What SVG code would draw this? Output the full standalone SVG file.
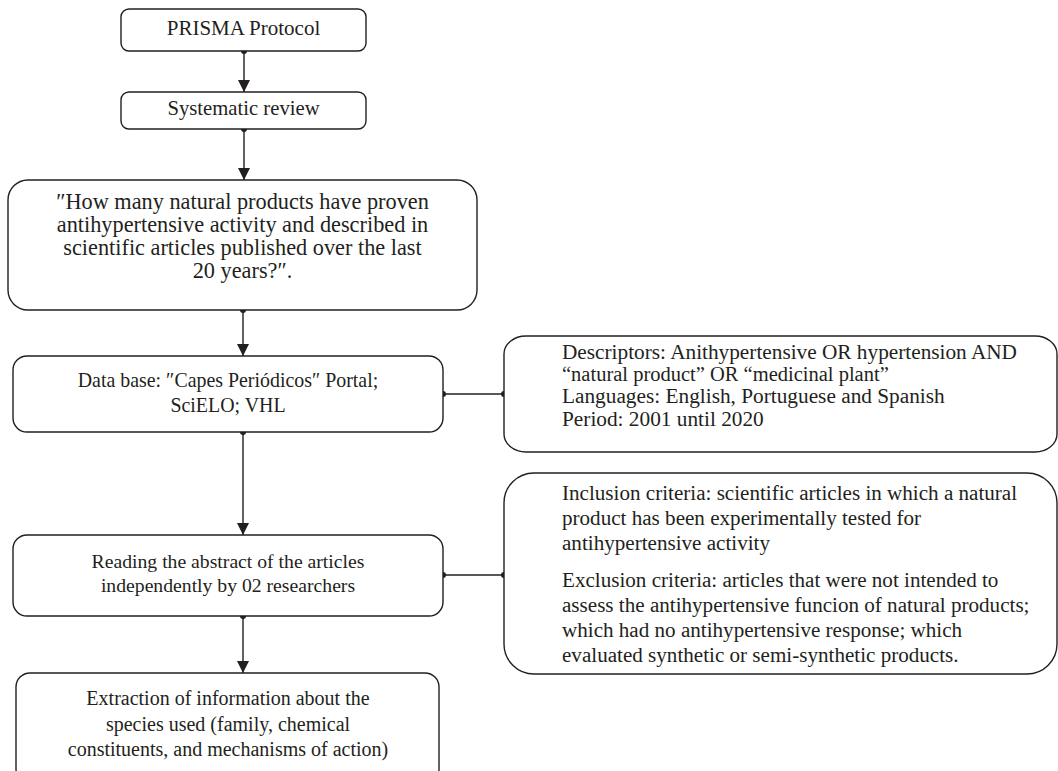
<svg xmlns="http://www.w3.org/2000/svg" width="1058" height="771" viewBox="0 0 1058 771">
<defs>
<marker id="arr" viewBox="0 0 12 12" refX="12" refY="6" markerWidth="12" markerHeight="12" markerUnits="userSpaceOnUse" orient="auto"><path d="M0,0 L12,6 L0,12 Z" fill="#231f20"/></marker>
<style>
.box{fill:#fff;stroke:#231f20;stroke-width:1.4}
.t{font-family:"Liberation Serif","Times New Roman",serif;font-size:20px;fill:#231f20}
.c{text-anchor:middle}
.ln{stroke:#231f20;stroke-width:1.4;fill:none}
.dot{fill:#231f20}
</style>
</defs>
<rect width="1058" height="771" fill="#fff"/>
<g id="connectors">
<line class="ln" x1="244" y1="51" x2="244" y2="92" marker-end="url(#arr)"/>
<circle class="dot" cx="244" cy="51" r="3"/>
<line class="ln" x1="244" y1="129" x2="244" y2="180" marker-end="url(#arr)"/>
<circle class="dot" cx="244" cy="129" r="3"/>
<line class="ln" x1="243" y1="310" x2="243" y2="356" marker-end="url(#arr)"/>
<circle class="dot" cx="243" cy="310" r="3"/>
<line class="ln" x1="243" y1="432" x2="243" y2="535" marker-end="url(#arr)"/>
<circle class="dot" cx="243" cy="432" r="3"/>
<line class="ln" x1="243" y1="616" x2="243" y2="673" marker-end="url(#arr)"/>
<circle class="dot" cx="243" cy="616" r="3"/>
<line class="ln" x1="443" y1="394" x2="504" y2="394"/>
<circle class="dot" cx="443" cy="394" r="3"/>
<circle class="dot" cx="504" cy="394" r="3"/>
<line class="ln" x1="443" y1="575" x2="504" y2="575"/>
<circle class="dot" cx="443" cy="575" r="3"/>
<circle class="dot" cx="504" cy="575" r="3"/>
</g>
<g id="prisma">
<rect class="box" x="121" y="9" width="245" height="42" rx="8"/>
<text class="t c" x="243.5" y="35" style="font-size:21px">PRISMA Protocol</text>
</g>
<g id="systematic">
<rect class="box" x="121" y="92" width="245" height="37" rx="8"/>
<text class="t c" x="243.5" y="115" style="font-size:20.7px">Systematic review</text>
</g>
<g id="question">
<rect class="box" x="8" y="180" width="469" height="130" rx="20"/>
<text class="t c" x="242.5" y="209" style="font-size:22.3px">″How many natural products have proven</text>
<text class="t c" x="242.5" y="232" style="font-size:22.3px">antihypertensive activity and described in</text>
<text class="t c" x="242.5" y="255" style="font-size:22.3px">scientific articles published over the last</text>
<text class="t c" x="242.5" y="278" style="font-size:22.3px">20 years?″.</text>
</g>
<g id="database">
<rect class="box" x="13" y="356" width="430" height="76" rx="14"/>
<text class="t c" x="228" y="387" style="font-size:19.9px">Data base: ″Capes Periódicos″ Portal;</text>
<text class="t c" x="228" y="412" style="font-size:19.9px">SciELO; VHL</text>
</g>
<g id="descriptors">
<rect class="box" x="504" y="336" width="553" height="116" rx="22" ry="18"/>
<text class="t" x="562" y="359" style="font-size:20.5px" textLength="455" lengthAdjust="spacingAndGlyphs">Descriptors: Anithypertensive OR hypertension AND</text>
<text class="t" x="562" y="381" style="font-size:20.5px">“natural product” OR “medicinal plant”</text>
<text class="t" x="562" y="403" style="font-size:21.3px">Languages: English, Portuguese and Spanish</text>
<text class="t" x="562" y="426" style="font-size:21.3px">Period: 2001 until 2020</text>
</g>
<g id="reading">
<rect class="box" x="13" y="535" width="430" height="81" rx="14"/>
<text class="t c" x="228" y="568" style="font-size:19.7px">Reading the abstract of the articles</text>
<text class="t c" x="228" y="592" style="font-size:19.7px">independently by 02 researchers</text>
</g>
<g id="criteria">
<rect class="box" x="504" y="473" width="553" height="201" rx="30"/>
<text class="t" x="562" y="500" style="font-size:21.1px">Inclusion criteria: scientific articles in which a natural</text>
<text class="t" x="562" y="525" style="font-size:21.1px">product has been experimentally tested for</text>
<text class="t" x="562" y="550" style="font-size:21.1px">antihypertensive activity</text>
<text class="t" x="562" y="587" style="font-size:21.1px">Exclusion criteria: articles that were not intended to</text>
<text class="t" x="562" y="612" style="font-size:21.1px">assess the antihypertensive funcion of natural products;</text>
<text class="t" x="562" y="637" style="font-size:21.1px">which had no antihypertensive response; which</text>
<text class="t" x="562" y="662" style="font-size:21.1px">evaluated synthetic or semi-synthetic products.</text>
</g>
<g id="extraction">
<rect class="box" x="16" y="673" width="423" height="110" rx="14"/>
<text class="t c" x="228" y="705" style="font-size:20px">Extraction of information about the</text>
<text class="t c" x="228" y="731" style="font-size:20px">species used (family, chemical</text>
<text class="t c" x="228" y="756" style="font-size:20px">constituents, and mechanisms of action)</text>
</g>
</svg>
